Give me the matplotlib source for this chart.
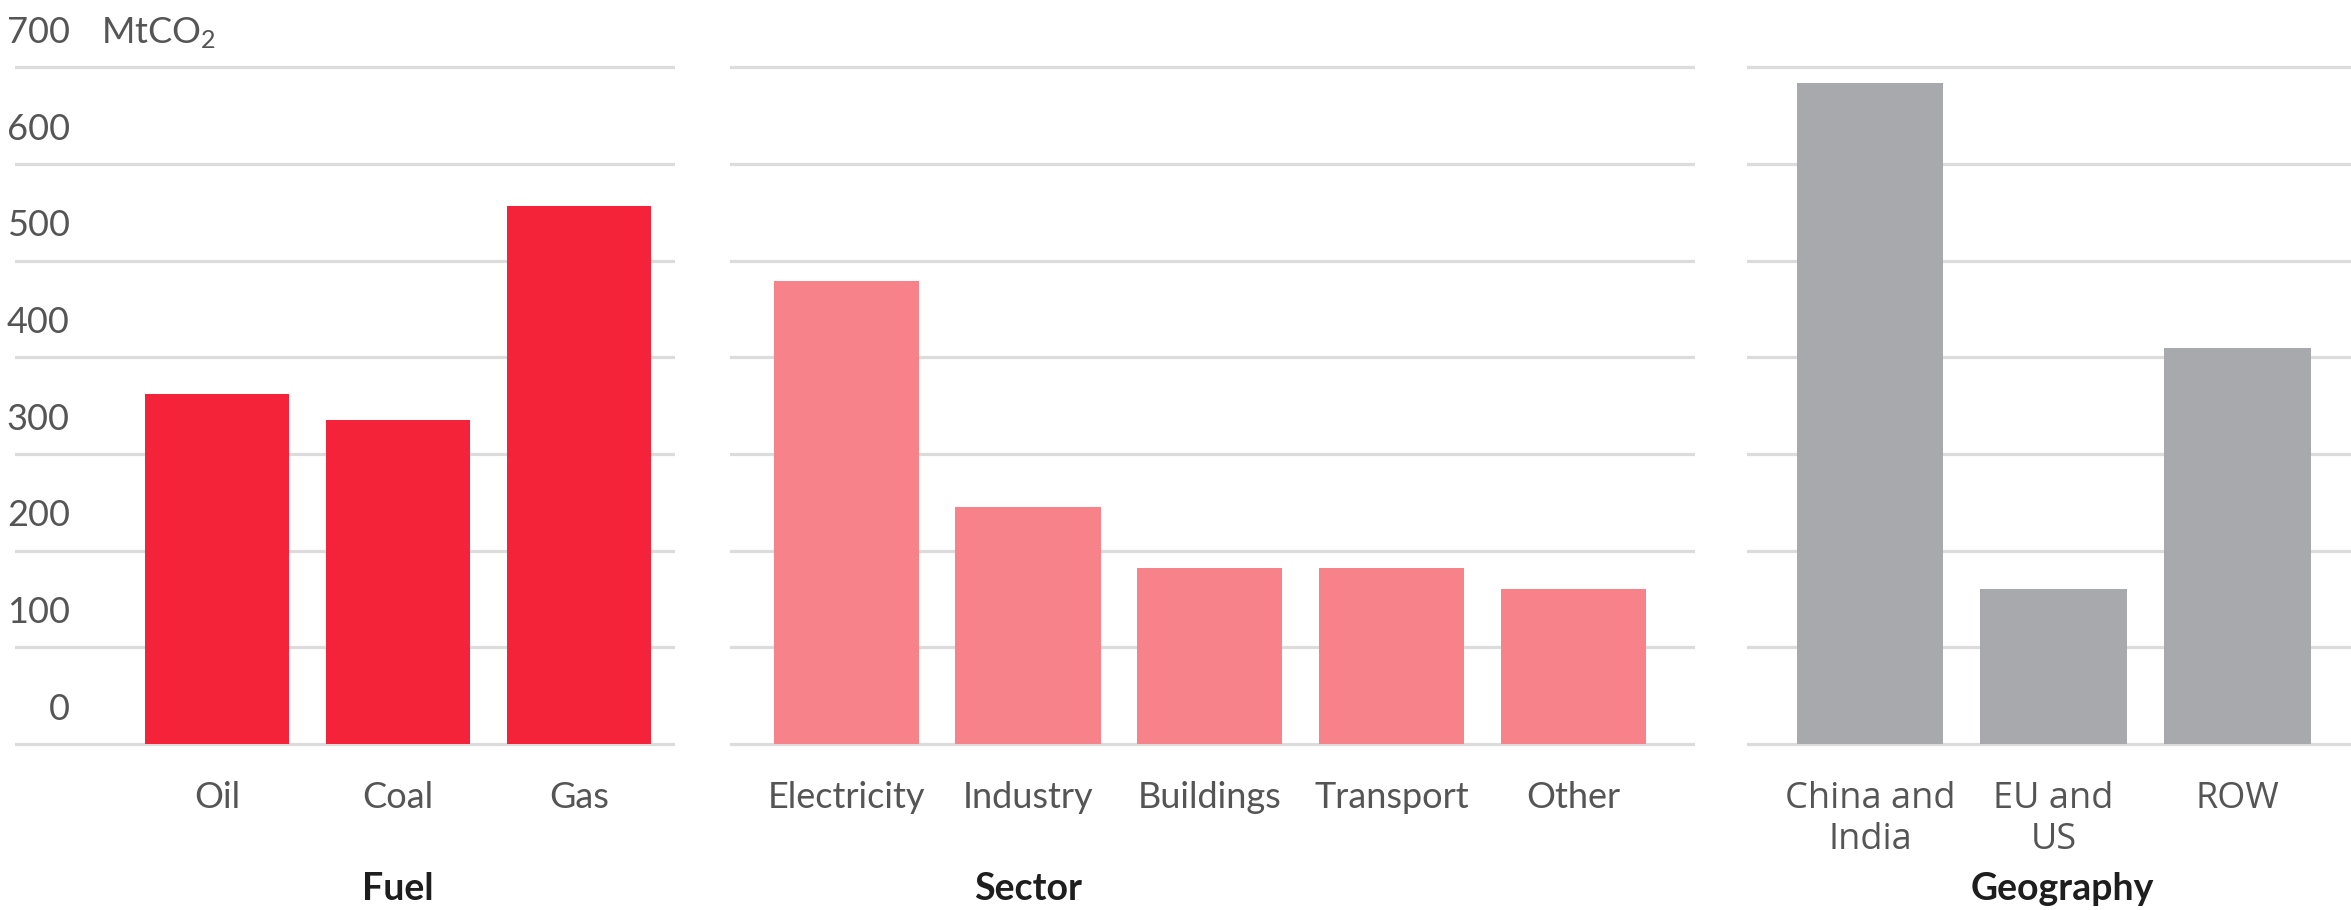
import matplotlib
matplotlib.use("Agg")
import matplotlib.pyplot as plt
from matplotlib.transforms import blended_transform_factory

plt.rcParams['font.family'] = ['Lato', 'DejaVu Sans']
plt.rcParams['mathtext.fontset'] = 'custom'
plt.rcParams['mathtext.rm'] = 'Lato'
plt.rcParams['mathtext.it'] = 'Lato'
plt.rcParams['mathtext.default'] = 'rm'

# ---- data ----
fuel_labels = ["Oil", "Coal", "Gas"]
fuel_values = [362, 335, 557]
sector_labels = ["Electricity", "Industry", "Buildings", "Transport", "Other"]
sector_values = [479, 245, 182, 182, 160]
geo_labels = ["China and\nIndia", "EU and\nUS", "ROW"]
geo_values = [684, 160, 410]
panel_titles = ["Fuel", "Sector", "Geography"]
y_ticks = [0, 100, 200, 300, 400, 500, 600, 700]
unit_label = r"MtCO$_2$"

W, H = 2351, 910
fig = plt.figure(figsize=(W / 100, H / 100), dpi=100)

y0_px, y700_px = 744, 67.5
ppu = (y0_px - y700_px) / 700.0
ylo, yhi = -15, 715
bot_px = y0_px + (0 - ylo) * ppu
top_px = y700_px - (yhi - 700) * ppu

def make_ax(x_left_px, x_right_px):
    return fig.add_axes([x_left_px / W, 1 - bot_px / H,
                         (x_right_px - x_left_px) / W, (bot_px - top_px) / H])

grid_col = "#dcdcdc"
tick_col = "#555555"
title_col = "#1e1e1e"
fs = 26

panels = [
    (15, 675, -1.116, 2.53, fuel_labels, fuel_values, "#f5233a"),
    (730, 1695, -0.64, 4.67, sector_labels, sector_values, "#f7828a"),
    (1747, 2351, -0.67, 2.62, geo_labels, geo_values, "#a8a9ad"),
]

for i, (xl, xr, lo, hi, labels, values, col) in enumerate(panels):
    ax = make_ax(xl, xr)
    ax.set_xlim(lo, hi)
    ax.set_ylim(ylo, yhi)
    for v in y_ticks:
        ax.axhline(v, color=grid_col, lw=2.3, zorder=1)
    xs = list(range(len(labels)))
    ax.bar(xs, values, width=0.8, color=col, zorder=2)
    ax.set_xticks([])
    ax.set_yticks([])
    for s in ax.spines.values():
        s.set_visible(False)
    ax.patch.set_alpha(0)
    fam = ['Open Sans', 'DejaVu Sans'] if i == 2 else ['Lato', 'DejaVu Sans']
    for x, lab in zip(xs, labels):
        ax.text(x, -38, lab, ha='center', va='top', fontsize=fs, color=tick_col,
                family=fam, linespacing=1.2, clip_on=False)
    tx = 1.0 if i != 2 else 1.05
    ax.text(tx, -150, panel_titles[i], ha='center', va='center', fontsize=fs + 1,
            fontweight='bold', color=title_col, clip_on=False)
    if i == 0:
        tr = blended_transform_factory(ax.transAxes, ax.transData)
        for v in y_ticks:
            ax.text(0.083, v + 36, str(v), ha='right', va='center', fontsize=fs,
                    color=tick_col, transform=tr, clip_on=False)
        ax.text(0.13, 700 + 36, unit_label, ha='left', va='center', fontsize=fs,
                color=tick_col, transform=tr, clip_on=False)

fig.savefig("out.png", dpi=100, facecolor="white")
